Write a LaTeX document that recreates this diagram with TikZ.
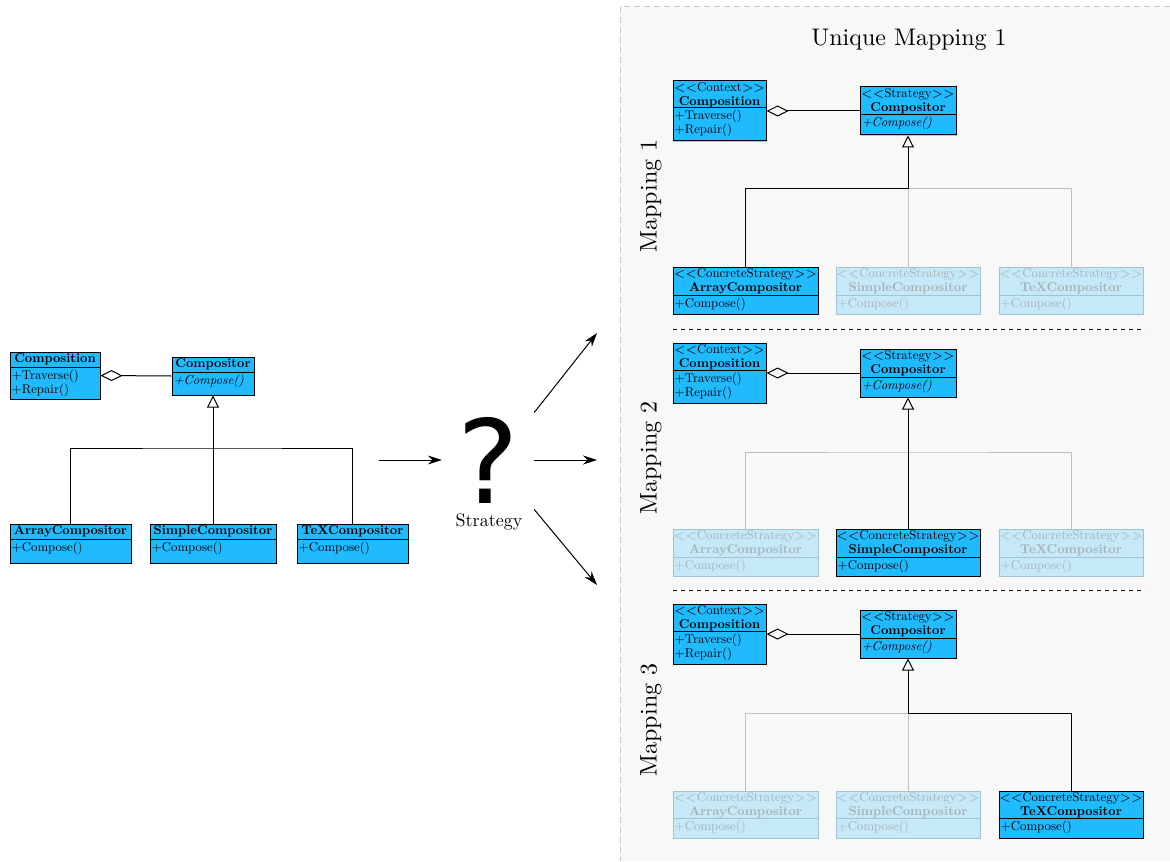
\documentclass[tikz,border=0pt]{standalone}
\usepackage{fontspec}
% one design size of Latin Modern for every text size
\setmainfont{lmroman10-regular}[
  Extension=.otf,
  BoldFont=lmroman10-bold,
  ItalicFont=lmroman10-italic,
  BoldItalicFont=lmroman10-bolditalic]
\newfontfamily\qfont{DejaVu Sans}
\usetikzlibrary{arrows.meta,fit,shadows}

\definecolor{umlblue}{RGB}{32,186,255}
\definecolor{fadefill}{RGB}{198,233,247}
\definecolor{fadedraw}{RGB}{160,196,210}
\definecolor{fadetext}{RGB}{165,178,184}
\definecolor{fadeline}{RGB}{190,190,190}
\definecolor{panel}{RGB}{248,248,248}
\definecolor{panelborder}{RGB}{200,200,200}

\tikzset{
  actbox/.style={draw=black, fill=umlblue, inner sep=0pt, line width=0.5pt,
    drop shadow={shadow xshift=0.6pt, shadow yshift=-0.6pt, fill=black!45}},
  fadbox/.style={draw=fadedraw, fill=fadefill, inner sep=0pt, line width=0.5pt},
  actsep/.style={draw=black, line width=0.5pt},
  fadsep/.style={draw=fadedraw, line width=0.5pt},
  acttext/.style={font=\fontsize{6.4}{7}\selectfont, text=black, inner sep=1pt},
  fadtext/.style={font=\fontsize{6.4}{7}\selectfont, text=fadetext, inner sep=1pt},
  conn/.style={draw=black, line width=0.5pt},
  fadconn/.style={draw=fadeline, line width=0.5pt},
  agg/.style={{Diamond[open,length=11pt,width=5.5pt]}-},
  inh/.style={-{Triangle[open,length=6pt,width=6pt]}},
  flow/.style={-{Stealth[length=7pt,width=4.5pt]}, line width=0.5pt},
  bigtitle/.style={font=\fontsize{12}{14}\selectfont, inner sep=0pt},
  sepline/.style={draw=black, line width=0.5pt, dash pattern=on 2pt off 2pt},
}

\newcommand\stereo[1]{$<<$#1$>>$}

% class box: #1 act/fad, #2 name, #3 top-left, #4 bottom-right,
% #5 y of the compartment line, #6 header, #7 operations
\newcommand\umlclass[7]{%
  \node[#1box, fit={#3 #4}] (#2) {};
  \draw[#1sep] (#2.west |- 0,#5) -- (#2.east |- 0,#5);
  \node[#1text, anchor=north, align=center] (#2-head) at (#2.north) {#6};
  \node[#1text, anchor=north west, align=left] (#2-body) at (#2.west |- 0,#5) {#7};
}

\begin{document}
\begin{tikzpicture}[x=0.5pt, y=-0.5pt]
\useasboundingbox (0,0) rectangle (1170,861);

% ---------- plain Strategy pattern ----------
\umlclass{act}{lcomp}{(10,352)}{(100,399)}{367}
  {\textbf{Composition}}{+Traverse()\\+Repair()}
\umlclass{act}{lcmp}{(172,357)}{(254,395)}{372}
  {\textbf{Compositor}}{\textit{+Compose()}}
\umlclass{act}{larr}{(10,524)}{(131,563)}{539}
  {\textbf{ArrayCompositor}}{+Compose()}
\umlclass{act}{lsim}{(150,524)}{(276,563)}{539}
  {\textbf{SimpleCompositor}}{+Compose()}
\umlclass{act}{ltex}{(297,524)}{(408,563)}{539}
  {\textbf{TeXCompositor}}{+Compose()}

\coordinate (ljunc) at (213,448);
\draw[conn, agg] (lcomp.east) -- (lcmp.west);
\draw[conn] (larr.north) |- (ljunc) -| (ltex.north);
\draw[conn] (lsim.north) -- (ljunc);
\draw[conn, inh] (ljunc) -- (lcmp.south);

% ---------- the question ----------
\node[inner xsep=7.5pt, inner ysep=0pt,
      font=\qfont\fontsize{58}{58}\selectfont] (q) at (488,460) {?};
\node[font=\fontsize{9}{10}\selectfont, inner sep=0pt] (qlabel) at (489,522) {Strategy};
\coordinate (src) at (379,460);
\coordinate (m1t) at (597,333);
\coordinate (m2t) at (597,460);
\coordinate (m3t) at (597,585);
\draw[flow] (src) -- (src -| q.west);
\draw[flow] ([yshift=2pt]q.north east) -- (m1t);
\draw[flow] (q.east |- m2t) -- (m2t);
\draw[flow] ([yshift=-3pt]q.south east) -- (m3t);

% ---------- panel with the mappings ----------
\fill[panel] (620,7) rectangle (1170,861);
\draw[panelborder, line width=0.5pt, dash pattern=on 3pt off 2pt]
  (1170,7) -- (620,7) -- (620,861);
\node[bigtitle] (title) at (909,40) {Unique Mapping 1};
\node[bigtitle, rotate=90] (lab1) at (651,196) {Mapping 1};
\node[bigtitle, rotate=90] (lab2) at (651,458) {Mapping 2};
\node[bigtitle, rotate=90] (lab3) at (651,720) {Mapping 3};
\draw[sepline] (673,329) -- (1145,329);
\draw[sepline] (673,590) -- (1145,590);

% Mapping 1: ArrayCompositor
\umlclass{act}{ctx1}{(673,81)}{(766,141)}{108}
  {\stereo{Context}\\\textbf{Composition}}{+Traverse()\\+Repair()}
\umlclass{act}{str1}{(860,87)}{(956,135)}{115}
  {\stereo{Strategy}\\\textbf{Compositor}}{\textit{+Compose()}}
\umlclass{act}{arr1}{(673,267)}{(818,314)}{295}
  {\stereo{ConcreteStrategy}\\\textbf{ArrayCompositor}}{+Compose()}
\umlclass{fad}{sim1}{(836,267)}{(980,314)}{295}
  {\stereo{ConcreteStrategy}\\\textbf{SimpleCompositor}}{+Compose()}
\umlclass{fad}{tex1}{(999,267)}{(1143,314)}{295}
  {\stereo{ConcreteStrategy}\\\textbf{TeXCompositor}}{+Compose()}
\coordinate (junc1) at (908,189);
\draw[conn, agg] (ctx1.east) -- (str1.west);
\draw[fadconn] (sim1.north) -- (junc1);
\draw[fadconn] (tex1.north) |- (junc1);
\draw[conn, inh] (arr1.north) |- (junc1) -- (str1.south);

% Mapping 2: SimpleCompositor
\umlclass{act}{ctx2}{(673,343)}{(766,403)}{370}
  {\stereo{Context}\\\textbf{Composition}}{+Traverse()\\+Repair()}
\umlclass{act}{str2}{(860,349)}{(956,397)}{377}
  {\stereo{Strategy}\\\textbf{Compositor}}{\textit{+Compose()}}
\umlclass{fad}{arr2}{(673,529)}{(818,576)}{557}
  {\stereo{ConcreteStrategy}\\\textbf{ArrayCompositor}}{+Compose()}
\umlclass{act}{sim2}{(836,529)}{(980,576)}{557}
  {\stereo{ConcreteStrategy}\\\textbf{SimpleCompositor}}{+Compose()}
\umlclass{fad}{tex2}{(999,529)}{(1143,576)}{557}
  {\stereo{ConcreteStrategy}\\\textbf{TeXCompositor}}{+Compose()}
\coordinate (junc2) at (908,452);
\draw[conn, agg] (ctx2.east) -- (str2.west);
\draw[fadconn] (arr2.north) |- (junc2) -| (tex2.north);
\draw[conn, inh] (sim2.north) -- (str2.south);

% Mapping 3: TeXCompositor
\umlclass{act}{ctx3}{(673,604)}{(766,664)}{631}
  {\stereo{Context}\\\textbf{Composition}}{+Traverse()\\+Repair()}
\umlclass{act}{str3}{(860,610)}{(956,658)}{638}
  {\stereo{Strategy}\\\textbf{Compositor}}{\textit{+Compose()}}
\umlclass{fad}{arr3}{(673,791)}{(818,838)}{818}
  {\stereo{ConcreteStrategy}\\\textbf{ArrayCompositor}}{+Compose()}
\umlclass{fad}{sim3}{(836,791)}{(980,838)}{818}
  {\stereo{ConcreteStrategy}\\\textbf{SimpleCompositor}}{+Compose()}
\umlclass{act}{tex3}{(999,791)}{(1143,838)}{818}
  {\stereo{ConcreteStrategy}\\\textbf{TeXCompositor}}{+Compose()}
\coordinate (junc3) at (908,713);
\draw[conn, agg] (ctx3.east) -- (str3.west);
\draw[fadconn] (arr3.north) |- (junc3);
\draw[fadconn] (sim3.north) -- (junc3);
\draw[conn, inh] (tex3.north) |- (junc3) -- (str3.south);
\end{tikzpicture}
\end{document}
